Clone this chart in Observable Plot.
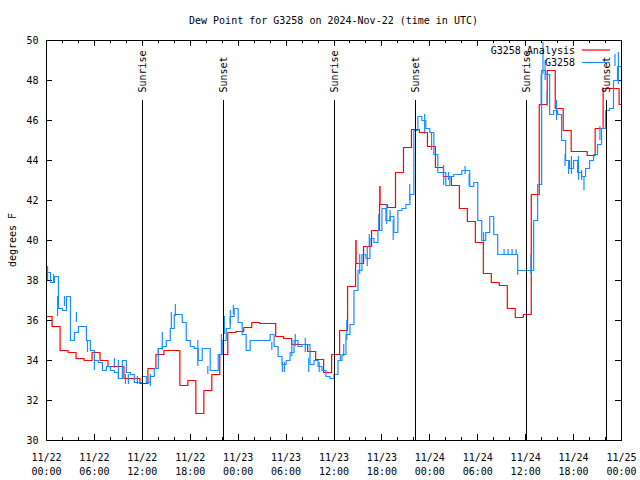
<!DOCTYPE html>
<html><head><meta charset="utf-8">
<script src="https://cdn.jsdelivr.net/npm/d3@7"></script>
<script src="https://cdn.jsdelivr.net/npm/@observablehq/plot@0.6"></script>
<style>body{margin:0;background:#fff}</style>
</head><body><div id="chart"></div>
<script>
// ---- data ----
const startTime = "2024-11-22T00:00Z";
const endTime = "2024-11-25T00:00Z";

// G3258 observations, one reading every 30 minutes from startTime
const obsDew = [38.4, 37.9, 38.2, 36.6, 36.5, 37.2, 35.0, 35.4, 35.7, 35.7,
  35.0, 34.5, 34.0, 33.9, 33.5, 33.7, 33.5, 33.4, 33.1, 34.0,
  33.4, 33.3, 32.9, 32.9, 33.2, 32.9, 33.2, 33.6, 34.6, 34.7,
  35.0, 35.6, 36.3, 36.3, 35.9, 35.0, 34.7, 34.6, 34.0, 34.6,
  34.6, 33.5, 33.5, 34.3, 35.0, 35.6, 36.2, 36.6, 35.9, 35.3,
  34.5, 35.0, 35.0, 35.0, 35.0, 35.0, 35.3, 34.7, 34.2, 33.8,
  34.0, 34.4, 35.0, 34.7, 34.8, 34.8, 33.8, 34.0, 33.7, 33.5,
  33.2, 33.1, 33.3, 34.0, 34.3, 35.3, 35.8, 37.5, 38.5, 39.3,
  39.1, 40.1, 39.9, 40.5, 41.6, 41.0, 41.2, 40.4, 41.5, 41.6,
  41.8, 42.3, 45.5, 46.2, 46.0, 45.6, 45.4, 44.3, 43.4, 43.4,
  42.75, 43.2, 43.3, 43.3, 43.5, 43.5, 42.7, 42.9, 41.0, 40.0,
  40.4, 41.2, 40.3, 39.3, 39.3, 39.3, 39.3, 39.3, 38.5, 38.5,
  38.5, 38.5, 41.0, 42.8, 48.5, 48.3, 46.3, 46.5, 46.3, 45.0,
  44.0, 43.6, 44.0, 43.4, 43.2, 43.6, 44.0, 44.3, 44.8, 45.6,
  46.5, 46.6, 48.0, 48.7, 47.8];

// short-term swings of the observations between the 30-minute readings
const jitterTimes = ["11-22 00:08", "11-22 00:53", "11-22 01:23", "11-22 02:15", "11-22 03:45",
  "11-22 05:08", "11-22 06:00", "11-22 08:30", "11-22 09:00", "11-22 09:53",
  "11-22 10:15", "11-22 11:23", "11-22 13:00", "11-22 14:00", "11-22 14:30",
  "11-22 15:38", "11-22 16:08", "11-22 18:57", "11-22 20:12", "11-22 21:54",
  "11-22 22:16", "11-22 23:01", "11-22 23:24", "11-23 04:13", "11-23 05:32",
  "11-23 05:47", "11-23 06:43", "11-23 07:09", "11-23 08:24", "11-23 08:50",
  "11-23 10:09", "11-23 12:47", "11-23 13:13", "11-23 13:36", "11-23 15:13",
  "11-23 16:10", "11-23 16:25", "11-23 17:36", "11-23 18:36", "11-23 19:02",
  "11-23 19:25", "11-23 21:29", "11-23 23:21", "11-24 00:13", "11-24 01:44",
  "11-24 02:21", "11-24 04:25", "11-24 04:55", "11-24 06:44", "11-24 09:18",
  "11-24 09:48", "11-24 10:18", "11-24 10:48", "11-24 11:00", "11-24 12:40",
  "11-24 13:56", "11-24 14:10", "11-24 14:26", "11-24 14:41", "11-24 15:52",
  "11-24 16:56", "11-24 17:22", "11-24 17:44", "11-24 18:37", "11-24 19:00",
  "11-24 19:18", "11-24 21:18", "11-24 23:11", "11-24 23:37"];
const jitterLow = [38.0, 37.9, 36.2, 36.7, 35.9, 34.4, 33.5, 33.6, 33.1, 32.8,
  32.8, 32.8, 32.7, 34.2, 34.5, 35.6, 36.2, 33.7, 33.3, 34.3,
  35.3, 35.8, 36.3, 34.5, 33.4, 33.4, 34.2, 34.7, 34.4, 33.4,
  33.4, 34.0, 34.2, 35.0, 38.3, 38.7, 39.7, 40.5, 40.8, 40.9,
  40.0, 42.0, 45.3, 44.5, 42.75, 43.0, 43.3, 42.7, 39.9, 39.3,
  39.3, 39.3, 39.3, 38.25, 38.3, 46.7, 48.3, 48.0, 46.7, 46.0,
  43.7, 43.3, 43.3, 43.0, 43.0, 42.5, 45.0, 48.7, 47.8];
const jitterHigh = [38.7, 38.3, 37.2, 37.2, 36.4, 35.0, 34.3, 34.1, 34.0, 33.3,
  33.3, 33.2, 33.3, 34.6, 35.4, 36.4, 36.8, 35.0, 33.7, 35.3,
  36.2, 36.5, 36.75, 34.9, 33.9, 33.9, 35.0, 35.3, 35.1, 34.1,
  33.9, 34.3, 34.8, 36.0, 39.3, 39.7, 40.3, 41.3, 41.8, 41.5,
  41.0, 42.8, 46.3, 45.4, 43.75, 43.4, 43.7, 43.3, 40.4, 39.55,
  39.55, 39.55, 39.55, 38.5, 39.3, 48.3, 49.9, 49.0, 47.5, 47.0,
  44.3, 44.0, 44.2, 44.2, 43.5, 43.2, 45.7, 49.3, 49.4];

// G3258 Analysis: value at startTime, then hourly values valid from :42 past each hour
const analysisFirstDew = 36.2;
const analysisFirstHourly = "2024-11-22T00:42Z";
const analysisDew = [35.7, 34.5, 34.4, 34.1, 34.0, 34.4, 34.0, 33.7, 33.7, 33.1,
  33.1, 32.85, 33.6, 34.3, 34.5, 34.5, 32.75, 33.0, 31.35, 32.5,
  33.3, 34.3, 35.4, 35.45, 35.65, 35.9, 35.85, 35.85, 35.2, 35.1,
  34.8, 34.8, 34.45, 34.05, 33.4, 34.3, 35.5, 37.7, 38.85, 39.7,
  40.5, 41.8, 41.65, 43.4, 44.65, 45.55, 45.4, 44.7, 43.65, 43.2,
  42.75, 41.6, 40.95, 39.9, 38.35, 37.9, 37.75, 36.6, 36.15, 36.3,
  42.3, 46.8, 48.5, 46.6, 45.5, 44.45, 44.45, 44.25, 45.6, 47.6,
  47.6, 46.8];
// brief analysis spikes
const spikeTimes = ["2024-11-23T14:45Z", "2024-11-23T17:45Z"];
const spikeFrom = [38.85, 41.8];
const spikeTo = [40.0, 42.7];

const sunLabels = ["Sunrise", "Sunset", "Sunrise", "Sunset", "Sunrise", "Sunset"];
const sunTimes = ["2024-11-22T12:04Z", "2024-11-22T22:11Z", "2024-11-23T12:05Z",
  "2024-11-23T22:12Z", "2024-11-24T12:07Z", "2024-11-24T22:09Z"];

const yTickValues = [30, 32, 34, 36, 38, 40, 42, 44, 46, 48, 50];
const titleText = "Dew Point for G3258 on 2024-Nov-22 (time in UTC)";
const yLabelText = "degrees F";
const legendNames = ["G3258 Analysis", "G3258"];
const legendColors = ["#ff0000", "#1a8cff"];

// ---- tables ----
const t0 = new Date(startTime), t1 = new Date(endTime);
const parseJ = d3.utcParse("%Y-%m-%d %H:%M");
const obs = obsDew.map((v, k) => ({time: d3.utcMinute.offset(t0, 30 * k), dew: v}));
const jitter = jitterTimes.map((t, i) => ({time: parseJ("2024-" + t), y1: jitterLow[i], y2: jitterHigh[i]}));
const aStart = new Date(analysisFirstHourly);
const analysis = [{time: t0, dew: analysisFirstDew}]
  .concat(analysisDew.map((v, i) => ({time: d3.utcHour.offset(aStart, i), dew: v})));
analysis.push({time: t1, dew: analysisDew[analysisDew.length - 1]});
const spikes = spikeTimes.map((t, i) => ({time: new Date(t), y1: spikeFrom[i], y2: spikeTo[i]}));
const sun = sunTimes.map((t, i) => ({time: new Date(t), label: sunLabels[i]}));

const majorX = d3.utcHour.every(6).range(t0, d3.utcMinute.offset(t1, 1));
const minorX = d3.utcHour.every(2).range(t0, d3.utcMinute.offset(t1, 1));

// ---- layout ----
const W = 640, H = 480, mL = 46, mR = 19, mT = 40, mB = 40;
const fH = H - mT - mB, fW = W - mL - mR;
const font = "'DejaVu Sans Mono', monospace";
const fmt = d3.utcFormat("%m/%d\n%H:%M");

const chart = Plot.plot({
  width: W, height: H,
  marginLeft: mL, marginRight: mR, marginTop: mT, marginBottom: mB,
  style: {fontFamily: font, fontSize: "10px", background: "#fff", color: "#000"},
  x: {type: "utc", domain: [t0, t1]},
  y: {domain: [30, 50]},
  marks: [
    Plot.axisX({ticks: majorX, tickSize: 0, tickPadding: 10, tickFormat: fmt, lineHeight: 1.45, fill: "#000", label: null}),
    Plot.axisY({ticks: yTickValues, tickSize: 0, tickPadding: 8, fill: "#000", label: null}),
    // inward ticks, all four sides
    Plot.tickX(minorX, {x: d => d, insetTop: fH - 3, stroke: "#000", shapeRendering: "crispEdges"}),
    Plot.tickX(minorX, {x: d => d, insetBottom: fH - 3, stroke: "#000", shapeRendering: "crispEdges"}),
    Plot.tickX(majorX, {x: d => d, insetTop: fH - 6, stroke: "#000", shapeRendering: "crispEdges"}),
    Plot.tickX(majorX, {x: d => d, insetBottom: fH - 6, stroke: "#000", shapeRendering: "crispEdges"}),
    Plot.tickY(yTickValues, {y: d => d, insetRight: fW - 6, stroke: "#000", shapeRendering: "crispEdges"}),
    Plot.tickY(yTickValues, {y: d => d, insetLeft: fW - 6, stroke: "#000", shapeRendering: "crispEdges"}),
    Plot.line(analysis, {x: "time", y: "dew", curve: "step-after", stroke: legendColors[0], strokeWidth: 1.2}),
    Plot.ruleX(spikes, {x: "time", y1: "y1", y2: "y2", stroke: legendColors[0], strokeWidth: 1.5}),
    Plot.line(obs, {x: "time", y: "dew", curve: "step-after", stroke: legendColors[1], strokeWidth: 1.2}),
    Plot.ruleX(jitter, {x: "time", y1: "y1", y2: "y2", stroke: legendColors[1], strokeWidth: 1.2}),
    Plot.ruleX(sun, {x: "time", insetTop: 60, stroke: "#000", strokeWidth: 1, shapeRendering: "crispEdges"}),
    Plot.text(sun, {x: "time", frameAnchor: "top", dy: 52, text: "label", rotate: -90, textAnchor: "start", lineAnchor: "middle", fill: "#000"}),
    Plot.frame({stroke: "#000", shapeRendering: "crispEdges"})
  ]
});

const svg = d3.select(chart);
svg.append("text").attr("x", mL + fW / 2).attr("y", 20).attr("dy", "0.35em")
  .attr("text-anchor", "middle").attr("fill", "#000").style("font-family", font).style("font-size", "10px")
  .text(titleText);
svg.append("text").attr("transform", `translate(12,${mT + fH / 2}) rotate(-90)`).attr("dy", "0.35em")
  .attr("text-anchor", "middle").attr("fill", "#000").style("font-family", font).style("font-size", "10px")
  .text(yLabelText);
legendNames.forEach((name, i) => {
  const y = 50 + i * 12.5;
  svg.append("text").attr("x", 575).attr("y", y).attr("dy", "0.35em").attr("text-anchor", "end")
    .attr("fill", "#000").style("font-family", font).style("font-size", "10px").text(name);
  svg.append("line").attr("x1", 582).attr("x2", 610).attr("y1", y).attr("y2", y)
    .attr("stroke", legendColors[i]).attr("stroke-width", 1.2);
});
document.getElementById("chart").appendChild(chart);
</script>
</body></html>
